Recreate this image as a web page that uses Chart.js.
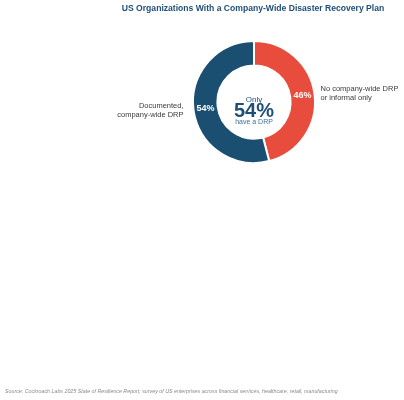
<!DOCTYPE html>
<html>
<head>
<meta charset="utf-8">
<script src="https://cdn.jsdelivr.net/npm/chart.js@4/dist/chart.umd.min.js"></script>
<style>
  html, body { margin: 0; padding: 0; background: #fff; }
  canvas { display: block; }
</style>
</head>
<body>
<canvas id="drpChart" width="404" height="400"></canvas>
<script>
// chart data
let categories = ["No company-wide DRP\nor informal only", "Documented,\ncompany-wide DRP"];
let shares = [46, 54];
let sliceColors = ["#e74c3c", "#1b4f72"];

let titleText = "US Organizations With a Company-Wide Disaster Recovery Plan";
let sourceText = "Source: Cockroach Labs 2025 State of Resilience Report; survey of US enterprises across financial services, healthcare, retail, manufacturing";

const FONT = '"Liberation Sans", Arial, Helvetica, sans-serif';

// draws title, slice labels, centre text and source note
const textPlugin = {
  id: 'drpText',
  afterDraw(chart) {
    const c = chart.ctx;
    const meta = chart.getDatasetMeta(0);
    c.save();

    // title
    c.fillStyle = '#1f4e79';
    c.font = 'bold 8.6px ' + FONT;
    c.textAlign = 'center';
    c.textBaseline = 'middle';
    c.fillText(titleText, 253, 9);

    let cx = 0, cy = 0;
    meta.data.forEach(function(arc, i) {
      const p = arc.getProps(['x', 'y', 'startAngle', 'endAngle', 'outerRadius'], true);
      cx = p.x; cy = p.y;
      const mid = (p.startAngle + p.endAngle) / 2;

      // percent inside the ring
      const pos = arc.tooltipPosition(true);
      c.fillStyle = '#ffffff';
      c.font = 'bold 9px ' + FONT;
      c.textAlign = 'center';
      c.textBaseline = 'middle';
      c.fillText(shares[i] + '%', pos.x, pos.y);

      // category label outside
      const right = Math.cos(mid) >= 0;
      const r = p.outerRadius + 6;
      const lx = p.x + Math.cos(mid) * r + (right ? 0 : -4);
      const ly = p.y + Math.sin(mid) * r;
      const lines = categories[i].split('\n');
      c.fillStyle = '#3a3a3a';
      c.font = '7.5px ' + FONT;
      c.textAlign = right ? 'left' : 'right';
      const lh = 9;
      lines.forEach(function(t, k) {
        c.fillText(t, lx, ly + (k - (lines.length - 1) / 2) * lh);
      });
    });

    // centre text
    c.textAlign = 'center';
    c.fillStyle = '#1f4e79';
    c.font = '8px ' + FONT;
    c.fillText('Only', cx, cy - 2);
    c.font = 'bold 20px ' + FONT;
    c.fillText(shares[1] + '%', cx, cy + 9);
    c.fillStyle = '#3d6f99';
    c.font = '7px ' + FONT;
    c.fillText('have a DRP', cx, cy + 20);

    // source note
    c.fillStyle = '#8a8a8a';
    c.font = 'italic 5.3px ' + FONT;
    c.textAlign = 'left';
    c.fillText(sourceText, 5, 392);

    c.restore();
  }
};

new Chart(document.getElementById('drpChart').getContext('2d'), {
  type: 'doughnut',
  data: {
    labels: categories,
    datasets: [{
      data: shares,
      backgroundColor: sliceColors,
      borderColor: '#ffffff',
      borderWidth: 2
    }]
  },
  options: {
    responsive: false,
    animation: false,
    cutout: '60%',
    layout: {
      padding: { left: 192, right: 88, top: 40, bottom: 236 }
    },
    plugins: {
      legend: { display: false },
      title: { display: false },
      tooltip: { enabled: false }
    }
  },
  plugins: [textPlugin]
});
</script>
</body>
</html>
